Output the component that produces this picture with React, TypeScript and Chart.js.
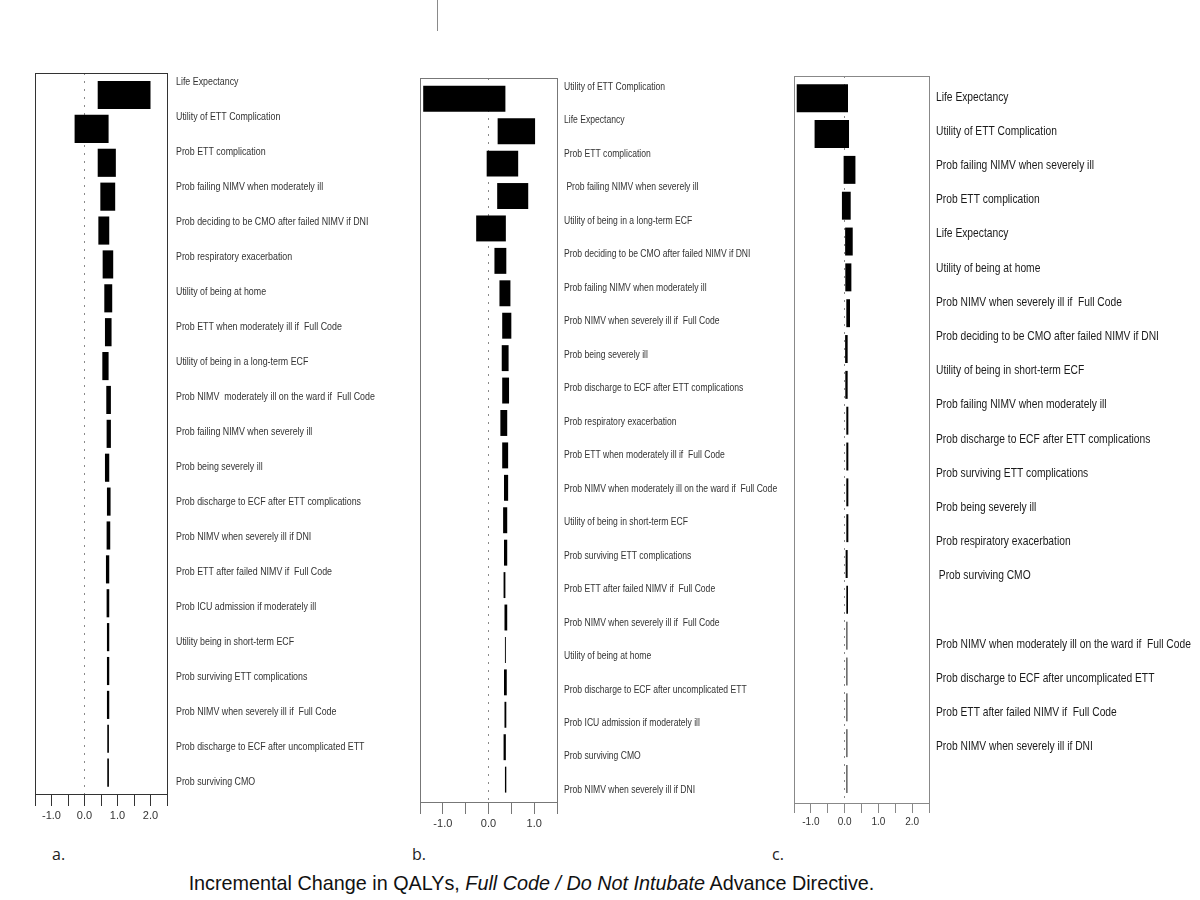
import React, { useEffect, useRef } from "react";
import { Chart, registerables } from "chart.js";

Chart.register(...registerables);

// ---------- DATA ----------
const labelsA = [
  "Life Expectancy",
  "Utility of ETT Complication",
  "Prob ETT complication",
  "Prob failing NIMV when moderately ill",
  "Prob deciding to be CMO after failed NIMV if DNI",
  "Prob respiratory exacerbation",
  "Utility of being at home",
  "Prob ETT when moderately ill if  Full Code",
  "Utility of being in a long-term ECF",
  "Prob NIMV  moderately ill on the ward if  Full Code",
  "Prob failing NIMV when severely ill",
  "Prob being severely ill",
  "Prob discharge to ECF after ETT complications",
  "Prob NIMV when severely ill if DNI",
  "Prob ETT after failed NIMV if  Full Code",
  "Prob ICU admission if moderately ill",
  "Utility being in short-term ECF",
  "Prob surviving ETT complications",
  "Prob NIMV when severely ill if  Full Code",
  "Prob discharge to ECF after uncomplicated ETT",
  "Prob surviving CMO",
];
const lowA = [0.4, -0.3, 0.4, 0.48, 0.42, 0.55, 0.6, 0.62, 0.54, 0.66, 0.67, 0.62, 0.68, 0.67, 0.65, 0.67, 0.68, 0.68, 0.68, 0.69, 0.69];
const highA = [2.0, 0.73, 0.95, 0.93, 0.75, 0.87, 0.84, 0.82, 0.73, 0.8, 0.8, 0.75, 0.79, 0.78, 0.75, 0.75, 0.75, 0.75, 0.75, 0.74, 0.74];

const labelsB = [
  "Utility of ETT Complication",
  "Life Expectancy",
  "Prob ETT complication",
  " Prob failing NIMV when severely ill",
  "Utility of being in a long-term ECF",
  "Prob deciding to be CMO after failed NIMV if DNI",
  "Prob failing NIMV when moderately ill",
  "Prob NIMV when severely ill if  Full Code",
  "Prob being severely ill",
  "Prob discharge to ECF after ETT complications",
  "Prob respiratory exacerbation",
  "Prob ETT when moderately ill if  Full Code",
  "Prob NIMV when moderately ill on the ward if  Full Code",
  "Utility of being in short-term ECF",
  "Prob surviving ETT complications",
  "Prob ETT after failed NIMV if  Full Code",
  "Prob NIMV when severely ill if  Full Code",
  "Utility of being at home",
  "Prob discharge to ECF after uncomplicated ETT",
  "Prob ICU admission if moderately ill",
  "Prob surviving CMO",
  "Prob NIMV when severely ill if DNI",
];
const lowB = [-1.43, 0.2, -0.04, 0.19, -0.27, 0.13, 0.24, 0.3, 0.29, 0.3, 0.26, 0.3, 0.34, 0.32, 0.34, 0.33, 0.35, 0.36, 0.34, 0.35, 0.33, 0.36];
const highB = [0.37, 1.02, 0.65, 0.87, 0.38, 0.39, 0.48, 0.5, 0.44, 0.45, 0.41, 0.43, 0.43, 0.41, 0.41, 0.37, 0.41, 0.38, 0.4, 0.39, 0.38, 0.39];

const labelsC = [
  "Life Expectancy",
  "Utility of ETT Complication",
  "Prob failing NIMV when severely ill",
  "Prob ETT complication",
  "Life Expectancy",
  "Utility of being at home",
  "Prob NIMV when severely ill if  Full Code",
  "Prob deciding to be CMO after failed NIMV if DNI",
  "Utility of being in short-term ECF",
  "Prob failing NIMV when moderately ill",
  "Prob discharge to ECF after ETT complications",
  "Prob surviving ETT complications",
  "Prob being severely ill",
  "Prob respiratory exacerbation",
  " Prob surviving CMO",
  "",
  "Prob NIMV when moderately ill on the ward if  Full Code",
  "Prob discharge to ECF after uncomplicated ETT",
  "Prob ETT after failed NIMV if  Full Code",
  "Prob NIMV when severely ill if DNI",
];
const lowC = [-1.42, -0.89, -0.03, -0.08, 0.0, 0.02, 0.05, 0.0, 0.02, 0.05, 0.05, 0.05, 0.05, 0.03, 0.05, 0.04, 0.04, 0.04, 0.04, 0.04];
const highC = [0.1, 0.13, 0.32, 0.18, 0.24, 0.2, 0.16, 0.09, 0.09, 0.11, 0.11, 0.11, 0.11, 0.09, 0.1, 0.09, 0.09, 0.09, 0.09, 0.09];

const panelLetters = ["a.", "b.", "c."];
const captionStart = "Incremental Change in QALYs, ";
const captionItalic = "Full Code / Do Not Intubate";
const captionEnd = " Advance Directive.";

// ---------- STYLE / LAYOUT ----------
const SANS = "'Liberation Sans', Arial, sans-serif";

type Panel = {
  labels: string[];
  low: number[];
  high: number[];
  xMin: number;
  xMax: number;
  barMin: number;
  barMax: number;
  labelMin: number;
  labelMax: number;
  barPct: number;
  left: number;
  width: number;
  height: number;
  padLeft: number;
  padTop: number;
  rightWidth: number;
  labelFont: number;
  labelSX: number;
  labelPad: number;
  labelColor: string;
  tickFont: number;
  tickLen: number;
  frameColor: string;
  grayFrom: number;
};

const panels: Panel[] = [
  {
    labels: labelsA, low: lowA, high: highA,
    xMin: -1.5, xMax: 2.5,
    barMin: -0.65, barMax: 20.63, labelMin: -0.25, labelMax: 20.35,
    barPct: 0.83,
    left: 0, width: 397, height: 834, padLeft: 35, padTop: 73, rightWidth: 230,
    labelFont: 11.5, labelSX: 0.77, labelPad: 9, labelColor: "#333",
    tickFont: 11, tickLen: 12, frameColor: "#333", grayFrom: 99,
  },
  {
    labels: labelsB, low: lowB, high: highB,
    xMin: -1.5, xMax: 1.5,
    barMin: -0.64, barMax: 21.69, labelMin: -0.26, labelMax: 21.36,
    barPct: 0.8,
    left: 400, width: 392, height: 842, padLeft: 20, padTop: 78, rightWidth: 235,
    labelFont: 11, labelSX: 0.78, labelPad: 7, labelColor: "#333",
    tickFont: 11, tickLen: 12, frameColor: "#777", grayFrom: 99,
  },
  {
    labels: labelsC, low: lowC, high: highC,
    xMin: -1.5, xMax: 2.5,
    barMin: -0.62, barMax: 19.67, labelMin: -0.61, labelMax: 20.65,
    barPct: 0.78,
    left: 780, width: 420, height: 843, padLeft: 14, padTop: 76, rightWidth: 271,
    labelFont: 13.5, labelSX: 0.76, labelPad: 7, labelColor: "#1a1a1a",
    tickFont: 10, tickLen: 10, frameColor: "#888", grayFrom: 15,
  },
];

function framePlugin(color: string) {
  return {
    id: "frameBox",
    afterDraw(chart: any) {
      const { ctx, chartArea } = chart;
      const { left, top, right, bottom } = chartArea;
      ctx.save();
      ctx.strokeStyle = color;
      ctx.lineWidth = 1;
      ctx.strokeRect(Math.round(left) + 0.5, Math.round(top) + 0.5, Math.round(right - left), Math.round(bottom - top));
      ctx.restore();
    },
  };
}

// Draws the parameter names next to the bars, placed by the y2 scale,
// with the narrow (horizontally condensed) look of the original.
function sideLabelPlugin(p: Panel) {
  return {
    id: "sideLabels",
    afterDraw(chart: any) {
      const s = chart.scales.y2;
      const { ctx, chartArea } = chart;
      ctx.save();
      ctx.fillStyle = p.labelColor;
      ctx.font = `${p.labelFont}px ${SANS}`;
      ctx.textBaseline = "middle";
      ctx.textAlign = "left";
      p.labels.forEach((t, i) => {
        if (!t) return;
        const y = s.getPixelForValue(i);
        ctx.save();
        ctx.translate(chartArea.right + p.labelPad, y);
        ctx.scale(p.labelSX, 1);
        ctx.fillText(t, 0, 0);
        ctx.restore();
      });
      ctx.restore();
    },
  };
}

function TornadoPanel({ p }: { p: Panel }) {
  const ref = useRef<HTMLCanvasElement | null>(null);
  useEffect(() => {
    if (!ref.current) return;
    const chart = new Chart(ref.current, {
      type: "bar",
      data: {
        datasets: [
          {
            data: p.low.map((lo, i) => ({ x: [lo, p.high[i]], y: i })) as any,
            backgroundColor: (c: any) => (c.dataIndex >= p.grayFrom ? "#707070" : "#000000"),
            borderWidth: 0,
            barPercentage: 1,
            categoryPercentage: p.barPct,
            xAxisID: "x",
            yAxisID: "y",
          },
        ],
      },
      options: {
        indexAxis: "y",
        responsive: false,
        animation: false,
        events: [],
        layout: { padding: { left: p.padLeft, top: p.padTop, right: 0, bottom: 0 } },
        plugins: {
          legend: { display: false },
          tooltip: { enabled: false },
          title: { display: false },
        },
        scales: {
          x: {
            type: "linear",
            position: "bottom",
            min: p.xMin,
            max: p.xMax,
            offset: false,
            afterFit: (s: any) => {
              s.height = 40;
            },
            ticks: {
              stepSize: 0.5,
              autoSkip: false,
              maxRotation: 0,
              padding: 3,
              color: "#333",
              font: { family: SANS, size: p.tickFont },
              callback: (v: any) => (Number.isInteger(Number(v)) ? Number(v).toFixed(1) : ""),
            },
            grid: {
              offset: false,
              drawOnChartArea: true,
              color: (c: any) => (c.tick && c.tick.value === 0 ? "#8a8a8a" : "rgba(0,0,0,0)"),
              lineWidth: 1,
              tickColor: p.frameColor,
              tickLength: p.tickLen,
              tickWidth: 1,
            },
            border: { display: true, color: p.frameColor, width: 1, dash: [2, 6] },
          },
          y: {
            type: "linear",
            display: false,
            reverse: true,
            offset: false,
            grid: { offset: false },
            min: p.barMin,
            max: p.barMax,
            ticks: { stepSize: 1, includeBounds: false, maxTicksLimit: 100 },
          },
          y2: {
            type: "linear",
            position: "right",
            reverse: true,
            offset: false,
            min: p.labelMin,
            max: p.labelMax,
            afterFit: (s: any) => {
              s.width = p.rightWidth;
            },
            grid: { display: false, drawTicks: false, offset: false },
            border: { display: false },
            ticks: {
              display: false,
              stepSize: 1,
              autoSkip: false,
              maxTicksLimit: 100,
              includeBounds: false,
            },
          },
        } as any,
      },
      plugins: [framePlugin(p.frameColor), sideLabelPlugin(p)],
    });
    return () => chart.destroy();
  }, [p]);

  return (
    <canvas
      ref={ref}
      width={p.width}
      height={p.height}
      style={{ position: "absolute", left: p.left, top: 0, width: p.width, height: p.height }}
    />
  );
}

export default function App() {
  const letterPos = [52, 412, 772];
  return (
    <div style={{ position: "absolute", left: 0, top: 0, width: 1200, height: 900, background: "#fff", overflow: "hidden" }}>
      <div style={{ position: "absolute", left: 437, top: 0, width: 1, height: 31, background: "#8a8a8a" }} />
      {panels.map((p, i) => (
        <TornadoPanel key={i} p={p} />
      ))}
      {panelLetters.map((t, i) => (
        <div
          key={t}
          style={{
            position: "absolute",
            left: letterPos[i],
            top: 843,
            fontFamily: "'Open Sans', 'Liberation Sans', sans-serif",
            fontSize: 16,
            color: "#222",
          }}
        >
          {t}
        </div>
      ))}
      <div
        style={{
          position: "absolute",
          left: 0,
          width: 1063,
          top: 872,
          textAlign: "center",
          fontFamily: SANS,
          fontSize: 19.8,
          color: "#111",
          whiteSpace: "pre",
        }}
      >
        {captionStart}
        <i>{captionItalic}</i>
        {captionEnd}
      </div>
    </div>
  );
}
